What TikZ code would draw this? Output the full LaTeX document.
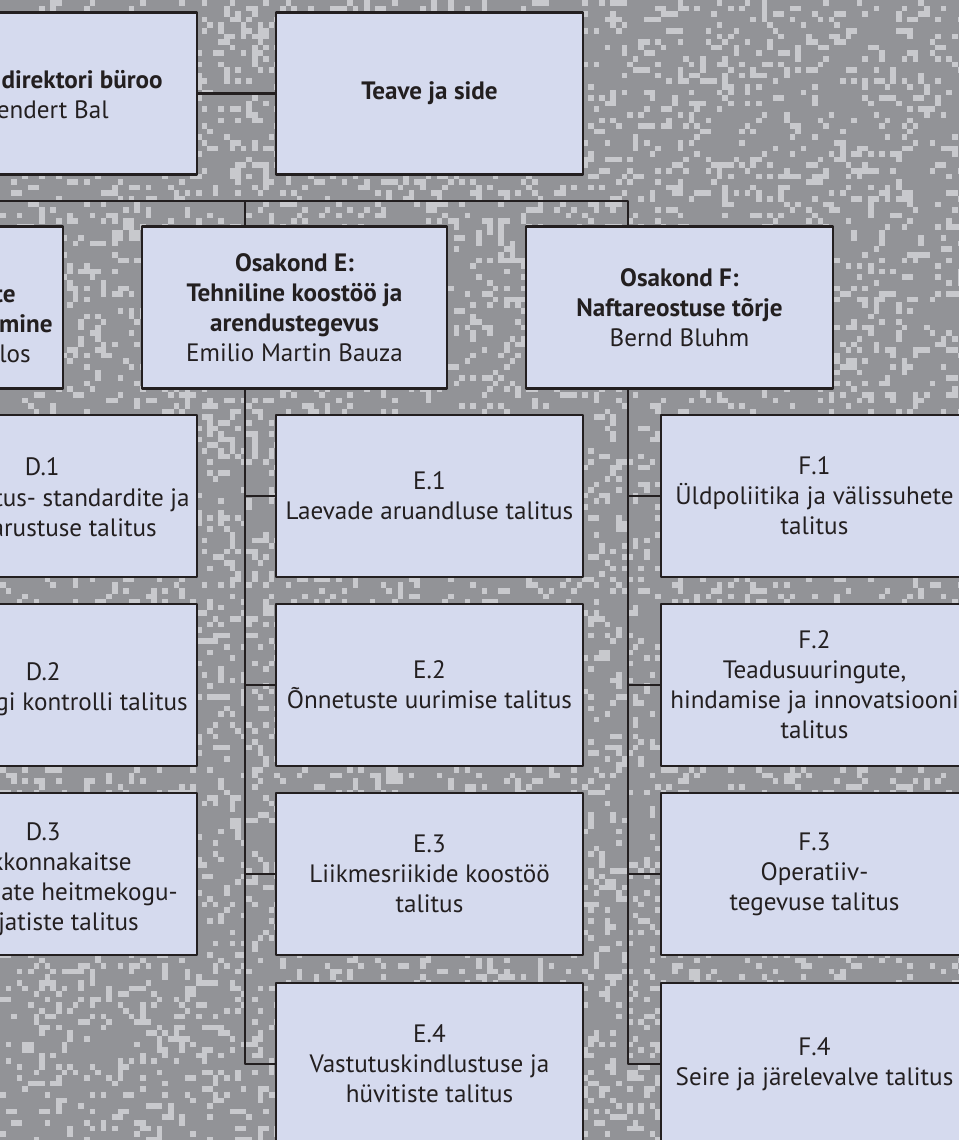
\documentclass[tikz,border=0pt]{standalone}
\usepackage{fontspec}
\setmainfont{PT Sans}
\definecolor{ink}{HTML}{231F20}
\definecolor{boxfill}{HTML}{D5DAEE}
\definecolor{bgbase}{HTML}{929397}
\definecolor{speck}{HTML}{C8C9CD}
\begin{document}
\begin{tikzpicture}[x=0.02cm, y=-0.02cm, font=\fontsize{14.3}{17.1}\selectfont, line join=round]
	\tikzset{box/.style={draw=ink, fill=boxfill, line width=1.2pt, minimum width=6.14cm, minimum height=3.24cm, align=center, inner sep=2pt, text=ink},
		link/.style={draw=ink, line width=1.2pt},
		frag/.style={anchor=base east, inner sep=0pt, text=ink}}
	\useasboundingbox (0,0) rectangle (959,1140);
	\begin{scope}
		\clip (0,0) rectangle (959,1140);
		% background
		\fill[bgbase] (0,0) rectangle (959,1140);
		\pgfmathsetseed{7}
		\foreach \i in {1,...,8000}{
			\pgfmathsetmacro\px{5.6*int(rnd*172)}
			\pgfmathsetmacro\py{5.6*int(rnd*204)}
			\fill[speck] (\px,\py) rectangle ++(5.6,5.6);
		}
		% top row
		\node[box] (dir) at (43.5,93.5) {};
		\node[frag] (dirA) at (163,88) {\textbf{direktori büroo}};
		\node[frag] (dirB) at (109,118) {eendert Bal};
		\node[box] (teave) at (429.5,93.5) {\textbf{Teave ja side}};
		\draw[link] (dir.east) -- (teave.west);
		% departments
		\node[box, minimum width=6.1cm] (osakD) at (-89.5,307.5) {};
		\node[frag] (osakDA) at (16,302) {\textbf{te}};
		\node[frag] (osakDB) at (53,332) {\textbf{mine}};
		\node[frag] (osakDC) at (31,362) {los};
		\node[box, minimum width=6.1cm] (osakE) at (294.5,307.5) {\textbf{Osakond E:}\\\textbf{Tehniline koostöö ja}\\\textbf{arendustegevus}\\Emilio Martin Bauza};
		\node[box] (osakF) at (679.5,307.5) {\textbf{Osakond F:}\\\textbf{Naftareostuse tõrje}\\Bernd Bluhm};
		\coordinate (jL) at (-20,201);
		\coordinate (jE) at (245,201);
		\coordinate (jF) at (628,201);
		\draw[link] (jL) -- (jF) -- (jF |- osakF.north);
		\draw[link] (jE) -- (jE |- osakE.north);
		% D column
		\foreach \n/\y in {d1/496, d2/685, d3/874}
		\node[box] (\n) at (43.5,\y) {};
		\node[frag] (d1A) at (60,475) {D.1};
		\node[frag] (d1B) at (190,506) {tus- standardite ja};
		\node[frag] (d1C) at (157,536) {arustuse talitus};
		\node[frag] (d2A) at (61,680) {D.2};
		\node[frag] (d2B) at (188,710) {igi kontrolli talitus};
		\node[frag] (d3A) at (61,840) {D.3};
		\node[frag] (d3B) at (132,870) {kkonnakaitse};
		\node[frag] (d3C) at (178,900) {nate heitmekogu-};
		\node[frag] (d3D) at (139,930) {ajatiste talitus};
		% E column
		\foreach \n/\y/\t in {e1/496/{E.1\\Laevade aruandluse talitus},
			e2/685/{E.2\\Õnnetuste uurimise talitus},
			e3/874/{E.3\\Liikmesriikide koostöö\\talitus},
			e4/1064/{E.4\\Vastutuskindlustuse ja\\hüvitiste talitus}}
		\node[box] (\n) at (429.5,\y) {\t};
		\draw[link] (jE |- osakE.south) -- (jE |- e4.west) -- (e4.west);
		\foreach \n in {e1,e2,e3}
		\draw[link] (jE |- \n.west) -- (\n.west);
		% F column
		\foreach \n/\y/\t in {f1/496/{F.1\\Üldpoliitika ja välissuhete\\talitus},
			f2/685/{F.2\\Teadusuuringute,\\hindamise ja innovatsiooni\\talitus},
			f3/874/{F.3\\Operatiiv-\\tegevuse talitus},
			f4/1064/{F.4\\Seire ja järelevalve talitus}}
		\node[box] (\n) at (814.5,\y) {\t};
		\draw[link] (jF |- osakF.south) -- (jF |- f4.west) -- (f4.west);
		\foreach \n in {f1,f2,f3}
		\draw[link] (jF |- \n.west) -- (\n.west);
	\end{scope}
\end{tikzpicture}
\end{document}
